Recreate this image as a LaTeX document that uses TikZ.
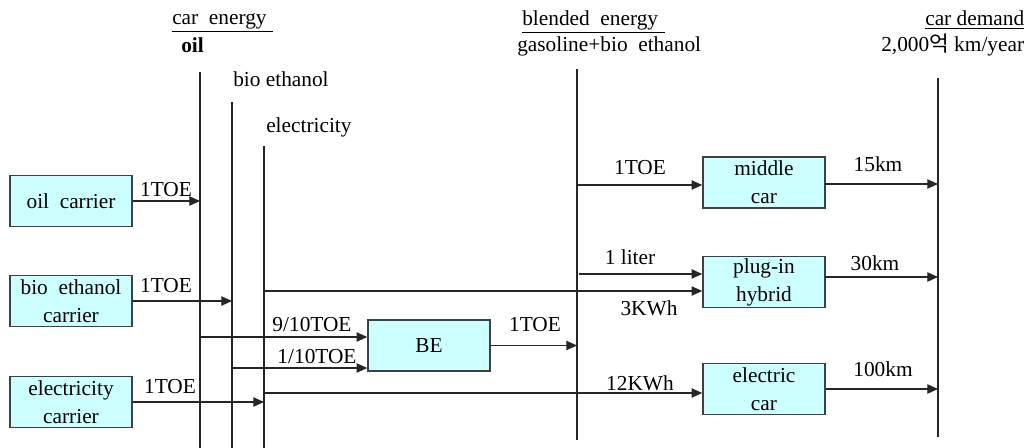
\documentclass[tikz,border=0pt]{standalone}
\usepackage{fontspec}
\setmainfont{Liberation Serif}
\newfontfamily\krfont{Noto Sans CJK KR}
\usetikzlibrary{arrows.meta}
\definecolor{boxfill}{HTML}{CCFFFF}
\definecolor{boxline}{HTML}{404040}
\begin{document}
\begin{tikzpicture}[x=0.75pt,y=-0.75pt,
  every node/.style={font=\fontsize{16}{21}\selectfont, inner sep=0pt},
  carbox/.style={draw=boxline, line width=1.1pt, fill=boxfill, minimum width=91.5pt, minimum height=38.25pt, align=center},
  vline/.style={line width=0.9pt, draw=black!85},
  arr/.style={line width=0.9pt, draw=black!85, -{Triangle[length=8pt,width=7pt]}},
  lbl/.style={anchor=center},
  hdr/.style={anchor=base west}]
\useasboundingbox (0,0) rectangle (1034,448);

% headers
\node[hdr] (hce) at (172,25) {\underline{car\ \ energy\hspace{5pt}}};
\node[hdr] (hoil) at (181,53) {\textbf{oil}};
\node[hdr] (hbio) at (233,87) {bio ethanol};
\node[hdr] (hel) at (266,133) {electricity};
\node[hdr] (hbe) at (522,26) {\underline{blended\ \ energy\hspace{5pt}}};
\node[hdr] (hgb) at (517,52) {gasoline+bio\ \ ethanol};
\node[hdr] (hcd) at (925,26) {\underline{car demand}};
\node[hdr] (hkm) at (881,52) {2,000{\krfont 억} km/year};

% vertical lines
\coordinate (oilT) at (200,72);  \coordinate (oilB) at (200,448);
\coordinate (bioT) at (232,102); \coordinate (bioB) at (232,448);
\coordinate (elT) at (264,146);  \coordinate (elB) at (264,448);
\coordinate (blT) at (577,69);   \coordinate (blB) at (577,440);
\coordinate (dmT) at (938,78);   \coordinate (dmB) at (938,437);
\draw[vline] (oilT) -- (oilB);
\draw[vline] (bioT) -- (bioB);
\draw[vline] (elT) -- (elB);
\draw[vline] (blT) -- (blB);
\draw[vline] (dmT) -- (dmB);

% boxes
\node[carbox] (oilc) at (71,201) {oil\ \ carrier};
\node[carbox] (bioc) at (71,301) {bio\ \ ethanol\\carrier};
\node[carbox] (elec) at (71,402) {electricity\\carrier};
\node[carbox] (be) at (429,345.5) {BE};
\node[carbox] (mid) at (764,182.5) {middle\\car};
\node[carbox] (hyb) at (764,282) {plug-in\\hybrid};
\node[carbox] (ecar) at (764,389) {electric\\car};

% carrier inputs
\draw[arr] (oilc.east) -- (oilc.east -| oilB);
\draw[arr] (bioc.east) -- (bioc.east -| bioB);
\draw[arr] (elec.east) -- (elec.east -| elB);
\node[lbl] (t1) at (166,190) {1TOE};
\node[lbl] (t2) at (166,286) {1TOE};
\node[lbl] (t3) at (170,387) {1TOE};

% BE inputs
\coordinate (o910) at (200,337);
\coordinate (b110) at (232,368);
\draw[arr] (o910) -- (be.west |- o910);
\draw[arr] (b110) -- (be.west |- b110);
\node[lbl] (t910) at (312,325) {9/10TOE};
\node[lbl] (t110) at (317,357) {1/10TOE};

% BE output
\draw[arr] (be.east) -- (be.east -| blB);
\node[lbl] (tbe) at (535,325) {1TOE};

% to cars
\coordinate (bmid) at (577,185);
\draw[arr] (bmid) -- (mid.west |- bmid);
\node[lbl] (tmid) at (640,168) {1TOE};
\coordinate (bliter) at (579,274);
\draw[arr] (bliter) -- (hyb.west |- bliter);
\node[lbl] (tlit) at (630,257) {1 liter};
\coordinate (ekwh) at (264,291);
\draw[arr] (ekwh) -- (hyb.west |- ekwh);
\node[lbl] (t3k) at (649,308) {3KWh};
\coordinate (e12) at (264,393);
\draw[arr] (e12) -- (ecar.west |- e12);
\node[lbl] (t12) at (640,383) {12KWh};

% to demand
\coordinate (m15) at (825,184);
\draw[arr] (m15) -- (m15 -| dmB);
\node[lbl] (t15) at (878,164) {15km};
\coordinate (h30) at (825,277);
\draw[arr] (h30) -- (h30 -| dmB);
\node[lbl] (t30) at (875,263) {30km};
\draw[arr] (ecar.east) -- (ecar.east -| dmB);
\node[lbl] (t100) at (883,369) {100km};
\end{tikzpicture}
\end{document}
